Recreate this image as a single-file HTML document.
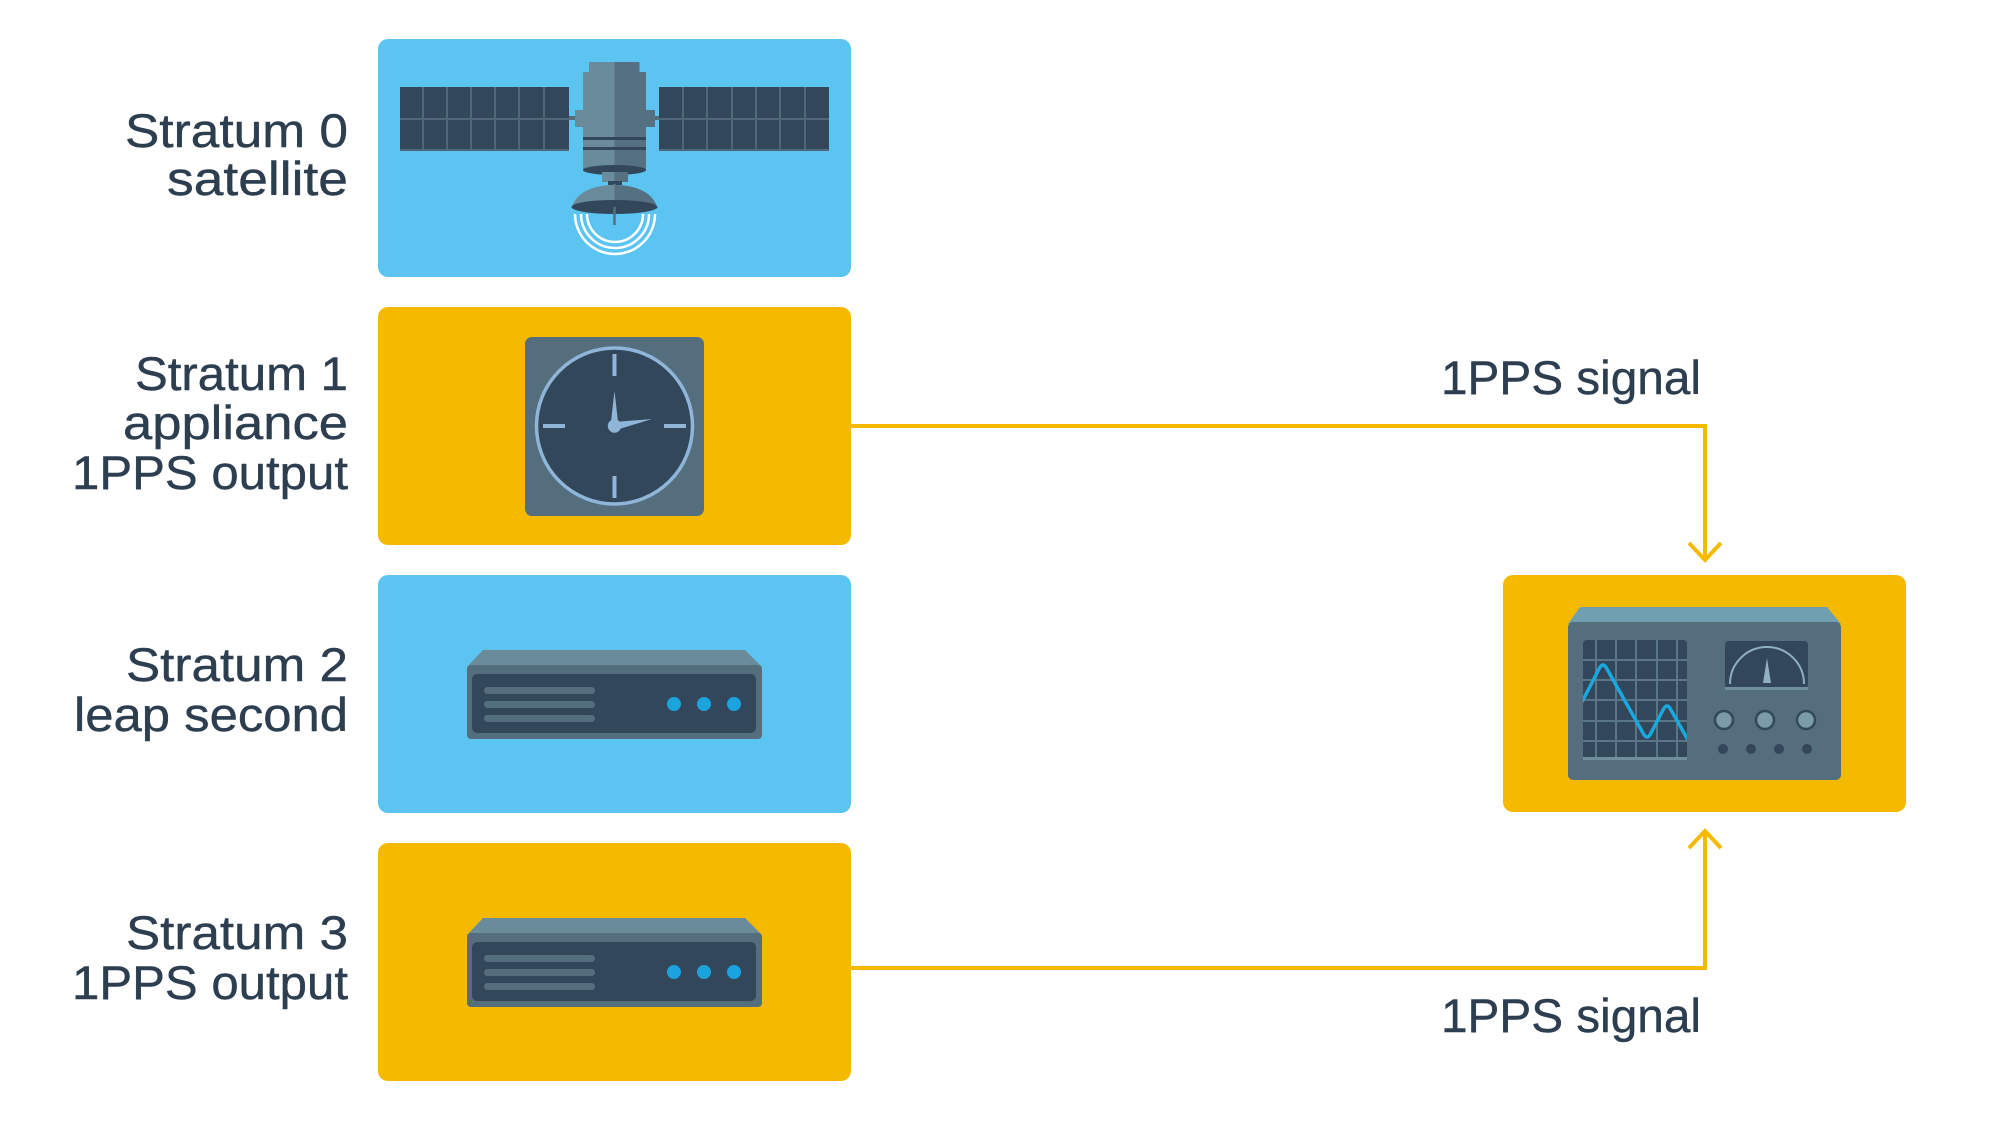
<!DOCTYPE html>
<html><head><meta charset="utf-8"><style>
html,body{margin:0;padding:0;background:#fff;}
svg{display:block;}
text{font-family:"Liberation Sans",Arial,sans-serif;fill:#2c3e4f;font-size:47px;stroke:#2c3e4f;stroke-width:0.4px;}
</style></head><body>
<svg width="2000" height="1125" viewBox="0 0 2000 1125" xmlns="http://www.w3.org/2000/svg">
<defs>
<linearGradient id="split" x1="0" x2="1" y1="0" y2="0">
<stop offset="0.5" stop-color="#6a8b99"/><stop offset="0.5" stop-color="#557080"/>
</linearGradient>
<clipPath id="scr"><rect x="1583" y="640" width="104" height="119" rx="4"/></clipPath>
</defs>

<!-- boxes -->
<rect x="378" y="39" width="473" height="238" rx="10" fill="#5bc4f1"/>
<rect x="378" y="307" width="473" height="238" rx="10" fill="#f5b900"/>
<rect x="378" y="575" width="473" height="238" rx="10" fill="#5bc4f1"/>
<rect x="378" y="843" width="473" height="238" rx="10" fill="#f5b900"/>
<rect x="1503" y="575" width="403" height="237" rx="10" fill="#f5b900"/>

<!-- connectors -->
<g fill="none" stroke="#f5b900" stroke-width="4">
<polyline points="851,426 1705,426 1705,559"/>
<polyline points="1689,543 1705,560 1721,543"/>
<polyline points="851,968 1705,968 1705,832"/>
<polyline points="1689,848 1705,831 1721,848"/>
</g>

<!-- labels -->
<g text-anchor="end">
<text x="348" y="147" textLength="223" lengthAdjust="spacingAndGlyphs">Stratum 0</text>
<text x="348" y="195" textLength="181" lengthAdjust="spacingAndGlyphs">satellite</text>
<text x="348" y="390" textLength="213" lengthAdjust="spacingAndGlyphs">Stratum 1</text>
<text x="348" y="439" textLength="225" lengthAdjust="spacingAndGlyphs">appliance</text>
<text x="348" y="489" textLength="276" lengthAdjust="spacingAndGlyphs">1PPS output</text>
<text x="348" y="681" textLength="222" lengthAdjust="spacingAndGlyphs">Stratum 2</text>
<text x="348" y="731" textLength="274" lengthAdjust="spacingAndGlyphs">leap second</text>
<text x="348" y="949" textLength="222" lengthAdjust="spacingAndGlyphs">Stratum 3</text>
<text x="348" y="999" textLength="276" lengthAdjust="spacingAndGlyphs">1PPS output</text>
<text x="1701" y="394" textLength="260" lengthAdjust="spacingAndGlyphs">1PPS signal</text>
<text x="1701" y="1032" textLength="260" lengthAdjust="spacingAndGlyphs">1PPS signal</text>
</g>

<!-- satellite -->
<g>
<rect x="400" y="87" width="169" height="64" fill="#33475a"/>
<rect x="659" y="87" width="170" height="64" fill="#33475a"/>
<g stroke="#4f6878" stroke-width="2">
<line x1="423" y1="87" x2="423" y2="151"/><line x1="447" y1="87" x2="447" y2="151"/>
<line x1="471" y1="87" x2="471" y2="151"/><line x1="495" y1="87" x2="495" y2="151"/>
<line x1="519" y1="87" x2="519" y2="151"/><line x1="544" y1="87" x2="544" y2="151"/>
<line x1="400" y1="119" x2="569" y2="119"/>
<line x1="683" y1="87" x2="683" y2="151"/><line x1="707" y1="87" x2="707" y2="151"/>
<line x1="732" y1="87" x2="732" y2="151"/><line x1="756" y1="87" x2="756" y2="151"/>
<line x1="780" y1="87" x2="780" y2="151"/><line x1="805" y1="87" x2="805" y2="151"/>
<line x1="659" y1="119" x2="829" y2="119"/>
<line x1="400" y1="150" x2="569" y2="150"/><line x1="659" y1="150" x2="829" y2="150"/>
</g>
<rect x="569" y="116" width="14" height="4" fill="#546e7e"/>
<rect x="575" y="110" width="8" height="17" fill="#6a8b99"/>
<rect x="646" y="116" width="13" height="4" fill="#546e7e"/>
<rect x="646" y="110" width="9" height="17" fill="#557080"/>
<rect x="589" y="62" width="25.5" height="12" fill="#6a8b99"/>
<rect x="614.5" y="62" width="25" height="12" fill="#557080"/>
<rect x="583" y="72" width="31.5" height="98" fill="#6a8b99"/>
<rect x="614.5" y="72" width="31.5" height="98" fill="#557080"/>
<rect x="583" y="137" width="63" height="3" fill="#33475a"/>
<rect x="583" y="147" width="63" height="3" fill="#33475a"/>
<ellipse cx="614.5" cy="170" rx="31.5" ry="5" fill="#33475a"/>
<rect x="602" y="172" width="12.5" height="10" fill="#6a8b99"/>
<rect x="614.5" y="172" width="13.5" height="10" fill="#557080"/>
<rect x="608" y="181" width="14" height="4" fill="#33475a"/>
<rect x="613" y="184" width="3" height="4" fill="#546e7e"/>
<path d="M572,207 C576,193 592,185 614.5,185 C637,185 653,193 657,207 Z" fill="url(#split)"/>
<ellipse cx="614.5" cy="207" rx="43" ry="7" fill="#33475a"/>
<line x1="614.5" y1="207" x2="614.5" y2="225" stroke="#546e7e" stroke-width="2.5"/>
<g fill="none" stroke="#fff" stroke-width="2.5">
<path d="M575,214 A40,40 0 0 0 655,214"/>
<path d="M581,214 A34,34 0 0 0 649,214"/>
<path d="M587,214 A28,28 0 0 0 643,214"/>
</g>
</g>

<!-- clock -->
<g>
<rect x="525" y="337" width="179" height="179" rx="7" fill="#546e7e"/>
<circle cx="614.5" cy="426" r="78" fill="#33475a" stroke="#8fb5d8" stroke-width="3.5"/>
<g stroke="#8fb5d8" stroke-width="4">
<line x1="614.5" y1="354" x2="614.5" y2="376"/>
<line x1="614.5" y1="476" x2="614.5" y2="498"/>
<line x1="543" y1="426" x2="565" y2="426"/>
<line x1="664" y1="426" x2="686" y2="426"/>
</g>
<polygon points="614.5,391 610.5,426 618.5,426" fill="#8fb5d8"/>
<polygon points="652,419 614.5,422 616,430" fill="#8fb5d8"/>
<circle cx="614.5" cy="426" r="6.7" fill="#8fb5d8"/>
</g>

<!-- servers -->
<g>
<polygon points="483,650 745,650 762,667 467,667" fill="#6a8b99"/>
<rect x="467" y="665" width="295" height="74" rx="4" fill="#546e7e"/>
<rect x="472" y="674" width="284" height="59" rx="5" fill="#33475a"/>
<rect x="484" y="687" width="111" height="7" rx="3.5" fill="#546e7e"/>
<rect x="484" y="701" width="111" height="7" rx="3.5" fill="#546e7e"/>
<rect x="484" y="715" width="111" height="7" rx="3.5" fill="#546e7e"/>
<circle cx="674" cy="704" r="7" fill="#1ba3dd"/>
<circle cx="704" cy="704" r="7" fill="#1ba3dd"/>
<circle cx="734" cy="704" r="7" fill="#1ba3dd"/>
</g>
<g transform="translate(0,268)">
<polygon points="483,650 745,650 762,667 467,667" fill="#6a8b99"/>
<rect x="467" y="665" width="295" height="74" rx="4" fill="#546e7e"/>
<rect x="472" y="674" width="284" height="59" rx="5" fill="#33475a"/>
<rect x="484" y="687" width="111" height="7" rx="3.5" fill="#546e7e"/>
<rect x="484" y="701" width="111" height="7" rx="3.5" fill="#546e7e"/>
<rect x="484" y="715" width="111" height="7" rx="3.5" fill="#546e7e"/>
<circle cx="674" cy="704" r="7" fill="#1ba3dd"/>
<circle cx="704" cy="704" r="7" fill="#1ba3dd"/>
<circle cx="734" cy="704" r="7" fill="#1ba3dd"/>
</g>

<!-- oscilloscope -->
<g>
<polygon points="1580,607 1827,607 1841,624 1568,624" fill="#6f9fb1"/>
<rect x="1568" y="622" width="273" height="158" rx="5" fill="#546e7e"/>
<rect x="1583" y="640" width="104" height="119" rx="4" fill="#33475a"/>
<g stroke="#5a7585" stroke-width="2">
<line x1="1596" y1="640" x2="1596" y2="759"/><line x1="1616" y1="640" x2="1616" y2="759"/>
<line x1="1636" y1="640" x2="1636" y2="759"/><line x1="1657" y1="640" x2="1657" y2="759"/>
<line x1="1677" y1="640" x2="1677" y2="759"/>
<line x1="1583" y1="660" x2="1687" y2="660"/><line x1="1583" y1="680" x2="1687" y2="680"/>
<line x1="1583" y1="700" x2="1687" y2="700"/><line x1="1583" y1="721" x2="1687" y2="721"/>
<line x1="1583" y1="741" x2="1687" y2="741"/>
</g>
<rect x="1583" y="757" width="104" height="3" fill="#6f8f9d"/>
<path clip-path="url(#scr)" d="M1582,702 L1599,669 Q1603,661 1607,669 L1643,733 Q1647,741 1651,733 L1663,710 Q1667,702 1671,710 L1688,740" fill="none" stroke="#1aa8e0" stroke-width="3.5" stroke-linejoin="round"/>
<rect x="1725" y="641" width="83" height="48" rx="4" fill="#33475a"/>
<rect x="1725" y="687" width="83" height="3" fill="#6f8f9d"/>
<path d="M1730,684 A37,37 0 0 1 1804,684" fill="none" stroke="#8fb0c0" stroke-width="2"/>
<polygon points="1767,658 1763,683 1771,683" fill="#8fb0c0"/>
<g fill="#7b9ba8" stroke="#33475a" stroke-width="2.5">
<circle cx="1724" cy="720" r="9"/><circle cx="1765" cy="720" r="9"/><circle cx="1806" cy="720" r="9"/>
</g>
<g fill="#33475a">
<circle cx="1723" cy="749" r="5"/><circle cx="1751" cy="749" r="5"/>
<circle cx="1779" cy="749" r="5"/><circle cx="1807" cy="749" r="5"/>
</g>
</g>
</svg>
</body></html>
